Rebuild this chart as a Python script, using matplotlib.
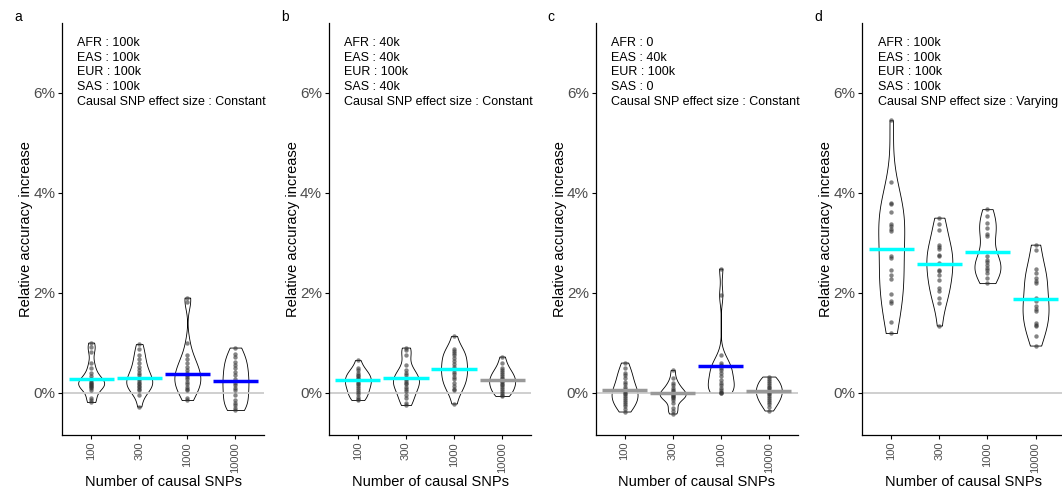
import numpy as np
import matplotlib.pyplot as plt

plt.rcParams['font.family'] = ['Liberation Sans', 'DejaVu Sans']

# categories on the x axis
snp_labels = ['100', '300', '1000', '10000']
panel_letters = ['a', 'b', 'c', 'd']
panel_notes = [
    "AFR : 100k\nEAS : 100k\nEUR : 100k\nSAS : 100k\nCausal SNP effect size : Constant",
    "AFR : 40k\nEAS : 40k\nEUR : 100k\nSAS : 40k\nCausal SNP effect size : Constant",
    "AFR : 0\nEAS : 40k\nEUR : 100k\nSAS : 0\nCausal SNP effect size : Constant",
    "AFR : 100k\nEAS : 100k\nEUR : 100k\nSAS : 100k\nCausal SNP effect size : Varying",
]

# relative accuracy increase (%) per replicate
a_100 = [1.0, 0.92, 0.82, 0.6, 0.5, 0.4, 0.33, 0.28, 0.25, 0.22, 0.2, 0.18, 0.16,
         0.14, 0.12, 0.1, 0.05, -0.1, -0.15, -0.19]
a_300 = [0.97, 0.88, 0.75, 0.68, 0.6, 0.52, 0.45, 0.4, 0.35, 0.3, 0.27, 0.23, 0.2,
         0.17, 0.14, 0.11, 0.08, 0.05, -0.05, -0.28]
a_1000 = [1.9, 1.82, 1.0, 0.75, 0.68, 0.6, 0.52, 0.46, 0.4, 0.36, 0.32, 0.28, 0.22,
          0.17, 0.12, 0.08, 0.05, -0.1, -0.15]
a_10000 = [0.9, 0.78, 0.72, 0.62, 0.55, 0.5, 0.42, 0.35, 0.28, 0.2, 0.15, 0.1, 0.05,
           -0.05, -0.15, -0.2, -0.25, -0.3, -0.35]

b_100 = [0.65, 0.5, 0.45, 0.4, 0.36, 0.33, 0.3, 0.27, 0.24, 0.2, 0.17, 0.14, 0.1,
         0.06, 0.02, -0.03, -0.08, -0.12, -0.15]
b_300 = [0.9, 0.85, 0.75, 0.55, 0.45, 0.4, 0.35, 0.3, 0.27, 0.24, 0.2, 0.17, 0.12,
         0.08, 0.03, -0.05, -0.1, -0.2, -0.25]
b_1000 = [1.13, 0.88, 0.84, 0.8, 0.75, 0.7, 0.63, 0.57, 0.52, 0.47, 0.42, 0.37, 0.32,
          0.28, 0.2, 0.14, 0.08, 0.05, -0.22]
b_10000 = [0.72, 0.6, 0.5, 0.45, 0.41, 0.37, 0.33, 0.3, 0.27, 0.24, 0.21, 0.18, 0.15,
           0.12, 0.08, 0.04, 0.0, -0.04, -0.07]

c_100 = [0.6, 0.5, 0.4, 0.35, 0.3, 0.22, 0.17, 0.12, 0.08, 0.03, 0.0, -0.03, -0.06,
         -0.1, -0.14, -0.18, -0.22, -0.26, -0.32, -0.38]
c_300 = [0.45, 0.3, 0.2, 0.15, 0.1, 0.06, 0.03, 0.0, -0.02, -0.04, -0.06, -0.08,
         -0.1, -0.14, -0.2, -0.3, -0.36, -0.42]
c_1000 = [2.48, 1.95, 0.75, 0.6, 0.55, 0.5, 0.45, 0.4, 0.33, 0.25, 0.2, 0.15, 0.1,
          0.05, 0.02, 0.0, 0.0]
c_10000 = [0.32, 0.28, 0.24, 0.2, 0.16, 0.12, 0.09, 0.06, 0.03, 0.0, -0.03, -0.07,
           -0.1, -0.14, -0.18, -0.22, -0.28, -0.36]

d_100 = [5.45, 4.22, 3.8, 3.77, 3.62, 3.38, 3.33, 3.27, 3.24, 2.73, 2.7, 2.46, 2.36,
         2.27, 1.98, 1.83, 1.8, 1.42, 1.19]
d_300 = [3.5, 3.37, 3.25, 2.96, 2.92, 2.87, 2.76, 2.73, 2.6, 2.46, 2.43, 2.36, 2.26,
         2.09, 2.03, 1.89, 1.79, 1.34]
d_1000 = [3.67, 3.54, 3.39, 3.29, 3.18, 3.14, 2.73, 2.66, 2.61, 2.56, 2.49, 2.46,
          2.39, 2.29, 2.19]
d_10000 = [2.96, 2.86, 2.48, 2.4, 2.3, 2.23, 2.19, 1.89, 1.83, 1.74, 1.68, 1.63,
           1.39, 1.36, 1.33, 1.13, 0.94]

panel_data = [
    [a_100, a_300, a_1000, a_10000],
    [b_100, b_300, b_1000, b_10000],
    [c_100, c_300, c_1000, c_10000],
    [d_100, d_300, d_1000, d_10000],
]

# horizontal bar value and its colour for each violin
mean_a = [0.28, 0.30, 0.38, 0.24]
mean_b = [0.25, 0.30, 0.47, 0.25]
mean_c = [0.06, -0.01, 0.54, 0.03]
mean_d = [2.87, 2.57, 2.81, 1.87]
panel_means = [mean_a, mean_b, mean_c, mean_d]

CYAN, BLUE, GREY = '#00FFFF', '#0000FF', '#999999'
color_a = [CYAN, CYAN, BLUE, BLUE]
color_b = [CYAN, CYAN, CYAN, GREY]
color_c = [GREY, GREY, BLUE, GREY]
color_d = [CYAN, CYAN, CYAN, CYAN]
panel_colors = [color_a, color_b, color_c, color_d]


def nrd0(kde):
    # R's default bandwidth, returned as a factor of the sample sd
    d = np.asarray(kde.dataset).ravel()
    sd = d.std(ddof=1)
    q75, q25 = np.percentile(d, [75, 25])
    h = 0.9 * min(sd, (q75 - q25) / 1.34) * len(d) ** -0.2
    return h / sd


W, H = 1062, 490
fig = plt.figure(figsize=(W / 100, H / 100), dpi=100)

for i in range(4):
    left = 62.3 + 266.7 * i
    ax = fig.add_axes([left / W, 1 - 435 / H, 202 / W, (435 - 23.3) / H])
    positions = np.arange(1, 5)

    parts = ax.violinplot(panel_data[i], positions=positions, widths=0.54,
                          showextrema=False, bw_method=nrd0, points=256)
    for pc in parts['bodies']:
        pc.set_facecolor('white')
        pc.set_edgecolor('black')
        pc.set_linewidth(0.6)
        pc.set_alpha(1)
        pc.set_zorder(1)

    ax.axhline(0, color='#CCCCCC', lw=1.3, zorder=2)

    for pos, vals in zip(positions, panel_data[i]):
        ax.scatter(np.full(len(vals), pos), vals, s=10, color='#333333',
                   alpha=0.6, lw=0, zorder=3)

    ax.hlines(panel_means[i], positions - 0.47, positions + 0.47,
              colors=panel_colors[i], lw=2.5, zorder=4)

    ax.set_xlim(0.4, 4.6)
    ax.set_ylim(-0.85, 7.39)
    ax.set_yticks([0, 2, 4, 6])
    ax.set_yticklabels(['0%', '2%', '4%', '6%'], fontsize=11, color='#4D4D4D')
    ax.set_xticks(positions)
    ax.set_xticklabels(snp_labels, rotation=90, fontsize=8, color='#4D4D4D')
    ax.tick_params(length=3, width=0.8)
    ax.tick_params(axis='x', pad=2)
    ax.tick_params(axis='y', pad=2)
    for side in ['top', 'right']:
        ax.spines[side].set_visible(False)
    for side in ['left', 'bottom']:
        ax.spines[side].set_linewidth(0.9)

    ax.set_ylabel('Relative accuracy increase', fontsize=10.5, labelpad=0)
    ax.set_xlabel('Number of causal SNPs', fontsize=10.5, labelpad=2)

    ax.text(0.075, 0.967, panel_notes[i], transform=ax.transAxes, fontsize=9,
            va='top', ha='left', linespacing=1.3)

    fig.text((left - 48) / W, 1 - 17 / H, panel_letters[i], fontsize=10,
             va='center', ha='left')

fig.savefig('out.png', dpi=100)
